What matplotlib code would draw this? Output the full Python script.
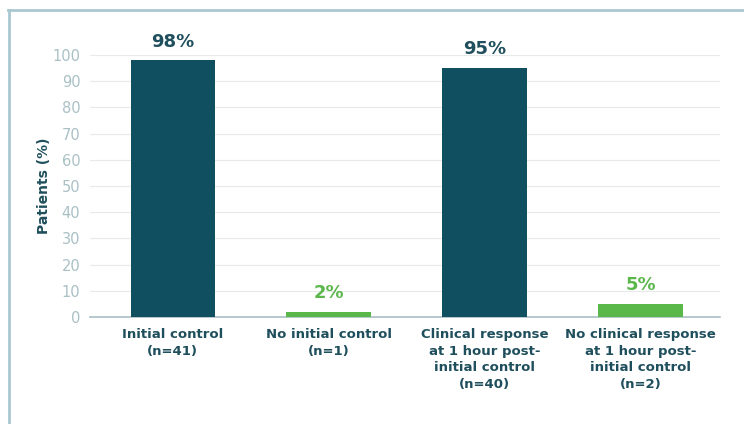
import matplotlib
matplotlib.use("Agg")
import matplotlib.pyplot as plt
from matplotlib.lines import Line2D

categories = ["Initial control\n(n=41)", "No initial control\n(n=1)",
              "Clinical response\nat 1 hour post-\ninitial control\n(n=40)",
              "No clinical response\nat 1 hour post-\ninitial control\n(n=2)"]
values = [98, 2, 95, 5]
labels = ["98%", "2%", "95%", "5%"]

dark = "#0f4f5f"
green = "#5ab74a"
colors = [dark, green, dark, green]
label_colors = ["#1f4f5c", green, "#1f4f5c", green]

fig = plt.figure(figsize=(7.44, 4.24), dpi=100)
ax = fig.add_axes([90/744, 1-317/424, 630/744, 262/424])

x = [0, 1, 2, 3]
ax.bar(x, values, width=0.54, color=colors, zorder=3)
ax.set_xlim(-0.53, 3.51)
ax.set_ylim(0, 100)
ax.set_yticks(range(0, 101, 10))
ax.yaxis.grid(True, color="#e6eaeb", linewidth=0.8, zorder=0)
for s in ["top", "right", "left"]:
    ax.spines[s].set_visible(False)
ax.spines["bottom"].set_color("#a9bfc4")
ax.spines["bottom"].set_linewidth(1.2)
ax.tick_params(axis="y", length=0, labelsize=10.5, labelcolor="#a9c0c5", pad=7)
ax.tick_params(axis="x", length=0, pad=8)
ax.set_xticks(x)
ax.set_xticklabels(categories, fontsize=9.5, fontweight="bold", color="#1f4f5c",
                   linespacing=1.35)
ax.set_ylabel("Patients (%)", fontsize=10, fontweight="bold", color="#1f4f5c", labelpad=1)

for xi, v, t, c in zip(x, values, labels, label_colors):
    ax.annotate(t, (xi, v), xytext=(0, 7), textcoords="offset points",
                ha="center", va="bottom", fontsize=13, fontweight="bold", color=c,
                annotation_clip=False)

fig.add_artist(Line2D([9/744, 9/744], [0, 1-10/424], color="#a9c8d0", linewidth=2, transform=fig.transFigure))
fig.add_artist(Line2D([8/744, 1], [1-10/424, 1-10/424], color="#a9c8d0", linewidth=2, transform=fig.transFigure))

fig.savefig("out.png", dpi=100)
